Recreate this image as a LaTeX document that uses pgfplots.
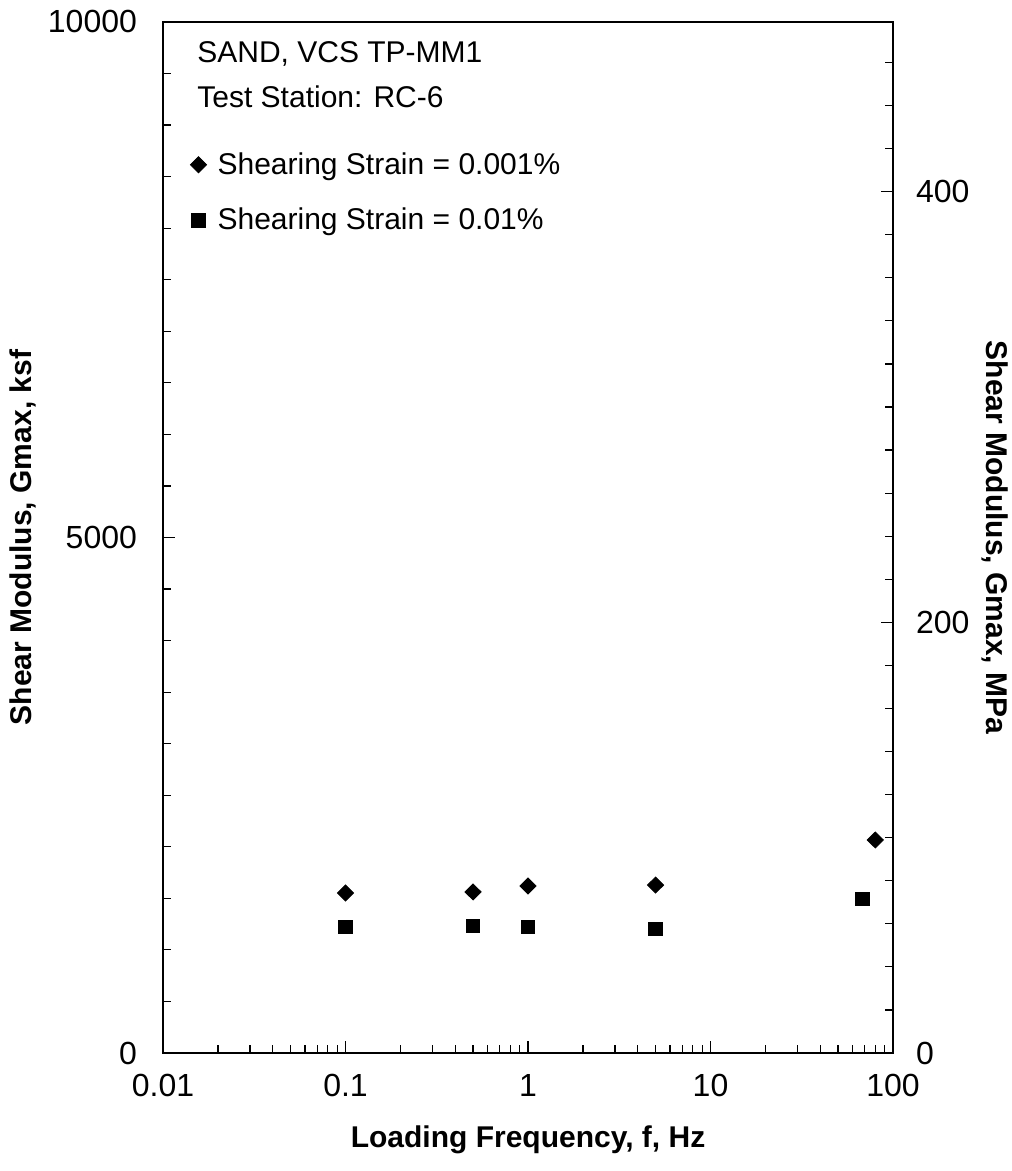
\documentclass[border=0pt]{standalone}
\usepackage{pgfplots}
\pgfplotsset{compat=1.18}
\usepackage{fontspec}
\setmainfont{Liberation Sans}
\pgfplotstableread{
x y
0.1 1552
0.5 1562
1 1620
5 1629
80 2066
}\diamonddata
\pgfplotstableread{
x y
0.1 1222
0.5 1232
1 1222
5 1203
68 1494
}\squaredata
\begin{document}
\begin{tikzpicture}
\begin{axis}[
  name=main,
  scale only axis, width=365pt, height=515.5pt,
  xmode=log, xmin=0.01, xmax=100,
  ymin=0, ymax=10000,
  xtick={0.01,0.1,1,10,100}, xticklabels={0.01,0.1,1,10,100},
  ytick={0,5000,10000}, minor ytick={500,1000,...,9500},
  scaled y ticks=false,
  yticklabel style={/pgf/number format/1000 sep={}},
  /pgf/number format/assume math mode=true,
  tick align=inside, ytick pos=left, xtick pos=bottom,
  major tick length=6pt, minor tick length=4pt,
  axis line style={line width=1pt},
  tick style={black, line width=0.6pt},
  ticklabel style={font=\fontsize{16}{18}\selectfont},
  xticklabel style={yshift=-7pt},
  yticklabel style={xshift=-9.5pt},
  legend style={at={(rel axis cs:0,1)}, anchor=north west, xshift=13.5pt, yshift=-63pt,
    draw=none, fill=none, inner sep=0pt, row sep=11.5pt, column sep=3.5pt,
    font=\fontsize{15}{17}\selectfont, cells={anchor=west}},
  legend cell align=left,
]
\addplot[only marks, mark=diamond*, mark size=4pt, mark options={xscale=1.35}, black] table[x=x,y=y] {\diamonddata};
\addlegendentry{Shearing Strain = 0.001\%}
\addplot[only marks, mark=square*, mark size=3.4pt, black] table[x=x,y=y] {\squaredata};
\addlegendentry{Shearing Strain = 0.01\%}
\node[anchor=west, inner sep=0pt, font=\fontsize{15}{17}\selectfont] at ([xshift=17pt, yshift=-16pt]rel axis cs:0,1) {SAND, VCS TP-MM1};
\node[anchor=west, inner sep=0pt, font=\fontsize{15}{17}\selectfont] at ([xshift=17pt, yshift=-37.5pt]rel axis cs:0,1) {Test Station: RC-6};
\end{axis}
\begin{axis}[
  at={(main.south west)}, anchor=south west,
  scale only axis, width=365pt, height=515.5pt,
  xmode=log, xmin=0.01, xmax=100,
  ymin=0, ymax=478.8,
  hide x axis, axis y line*=right,
  ytick={0,200,400}, minor ytick={20,40,...,460},
  tick align=inside,
  major tick length=6pt, minor tick length=4pt,
  axis line style={line width=1pt},
  tick style={black, line width=0.6pt},
  /pgf/number format/assume math mode=true,
  ticklabel style={font=\fontsize{16}{18}\selectfont},
  yticklabel style={xshift=8pt},
]
\end{axis}
\node[font=\bfseries\fontsize{15}{17}\selectfont] at ([yshift=-43.5pt]main.south) {Loading Frequency, f, Hz};
\node[rotate=90, font=\bfseries\fontsize{15}{17}\selectfont] at ([xshift=-70pt]main.west) {Shear Modulus, Gmax, ksf};
\node[rotate=-90, font=\bfseries\fontsize{15}{17}\selectfont] at ([xshift=51pt]main.east) {Shear Modulus, Gmax, MPa};
\pgfresetboundingbox
\path ([xshift=-81.5pt, yshift=-59pt]main.south west) rectangle ([xshift=59pt, yshift=11pt]main.north east);
\end{tikzpicture}
\end{document}
